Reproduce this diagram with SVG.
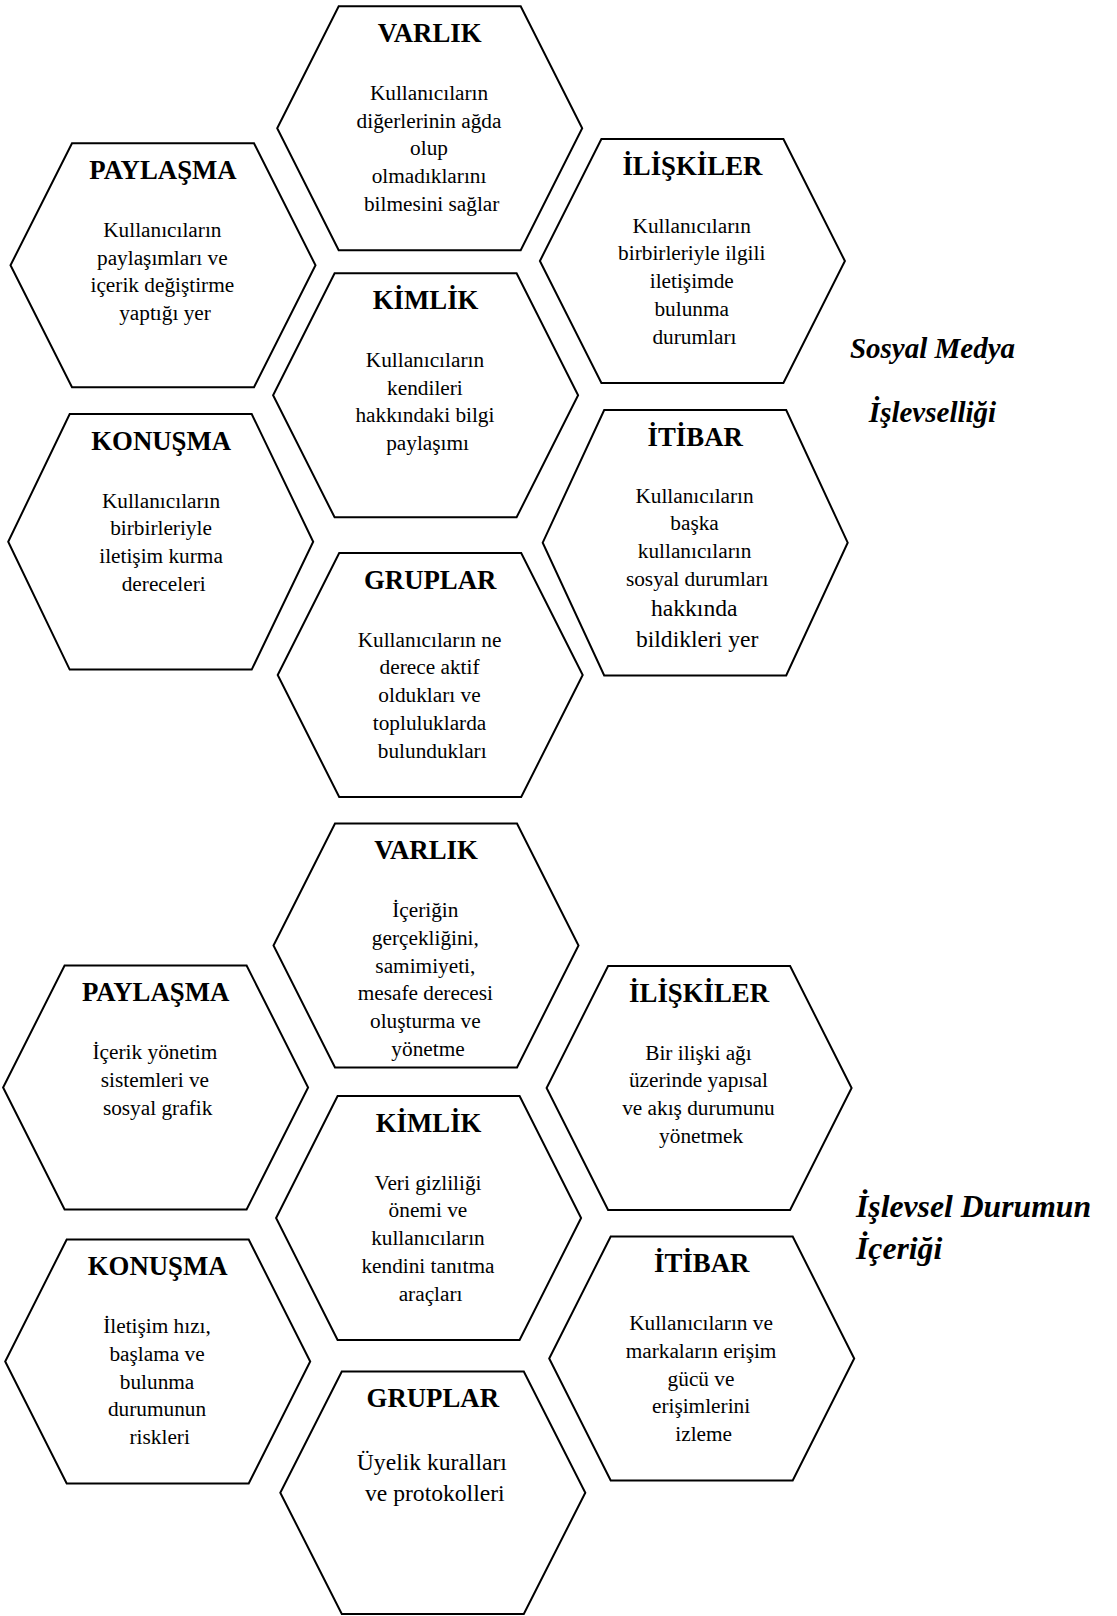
<svg xmlns="http://www.w3.org/2000/svg" width="1117" height="1616" viewBox="0 0 1117 1616">
  <style>
    .hex { fill: #ffffff; stroke: #000000; stroke-width: 2; stroke-linejoin: miter; }
    text { font-family: "Liberation Serif", "Times New Roman", serif; fill: #000000; text-anchor: middle; }
    .t { font-weight: bold; font-size: 26.8px; }
    .b { font-size: 21.3px; transform: translateX(2px); }
    .bl { font-size: 23.6px; transform: translateX(2px); }
    .side { font-weight: bold; font-style: italic; font-size: 29px; }
    .side2 { font-weight: bold; font-style: italic; font-size: 31.7px; text-anchor: start; }
  </style>
  <rect width="1117" height="1616" fill="#ffffff"/>

  <!-- Upper honeycomb: social media functionality -->
  <g id="varlik-1">
    <polygon class="hex" points="338.7,6.3 520.7,6.3 582.2,128.3 520.7,250.3 338.7,250.3 277.2,128.3"/>
    <text class="t" x="429.7" y="41.8">VARLIK</text>
    <text class="b">
      <tspan x="429.7" y="99.8">Kullanıcıların</tspan>
      <tspan x="429.7" y="127.6">diğerlerinin ağda</tspan>
      <tspan x="429.7" y="155.4">olup</tspan>
      <tspan x="429.7" y="183.2">olmadıklarını</tspan>
      <tspan x="429.7" y="211">bilmesini sağlar</tspan>
    </text>
  </g>

  <g id="paylasma-1">
    <polygon class="hex" points="72,143.3 254,143.3 315.5,265.3 254,387.3 72,387.3 10.5,265.3"/>
    <text class="t" x="163" y="178.8">PAYLAŞMA</text>
    <text class="b">
      <tspan x="163" y="236.8">Kullanıcıların</tspan>
      <tspan x="163" y="264.6">paylaşımları ve</tspan>
      <tspan x="163" y="292.4">içerik değiştirme</tspan>
      <tspan x="163" y="320.2">yaptığı yer</tspan>
    </text>
  </g>

  <g id="iliskiler-1">
    <polygon class="hex" points="601.4,139 783.4,139 844.9,261 783.4,383 601.4,383 539.9,261"/>
    <text class="t" x="692.4" y="174.5">İLİŞKİLER</text>
    <text class="b">
      <tspan x="692.4" y="232.5">Kullanıcıların</tspan>
      <tspan x="692.4" y="260.3">birbirleriyle ilgili</tspan>
      <tspan x="692.4" y="288.1">iletişimde</tspan>
      <tspan x="692.4" y="315.9">bulunma</tspan>
      <tspan x="692.4" y="343.7">durumları</tspan>
    </text>
  </g>

  <g id="kimlik-1">
    <polygon class="hex" points="334.6,273.3 516.6,273.3 578.1,395.3 516.6,517.3 334.6,517.3 273.1,395.3"/>
    <text class="t" x="425.6" y="308.8">KİMLİK</text>
    <text class="b">
      <tspan x="425.6" y="366.8">Kullanıcıların</tspan>
      <tspan x="425.6" y="394.6">kendileri</tspan>
      <tspan x="425.6" y="422.4">hakkındaki bilgi</tspan>
      <tspan x="425.6" y="450.2">paylaşımı</tspan>
    </text>
  </g>

  <g id="konusma-1">
    <polygon class="hex" points="69.7,414 251.7,414 313.2,541.8 251.7,669.6 69.7,669.6 8.2,541.8"/>
    <text class="t" x="161.2" y="449.5">KONUŞMA</text>
    <text class="b">
      <tspan x="161.7" y="507.5">Kullanıcıların</tspan>
      <tspan x="161.7" y="535.3">birbirleriyle</tspan>
      <tspan x="161.7" y="563.1">iletişim kurma</tspan>
      <tspan x="161.7" y="590.9">dereceleri</tspan>
    </text>
  </g>

  <g id="itibar-1">
    <polygon class="hex" points="604.2,410 786.2,410 847.7,542.7 786.2,675.4 604.2,675.4 542.7,542.7"/>
    <text class="t" x="695.2" y="445.5">İTİBAR</text>
    <text class="b">
      <tspan x="695.2" y="502.5">Kullanıcıların</tspan>
      <tspan x="695.2" y="530.3">başka</tspan>
      <tspan x="695.2" y="558.1">kullanıcıların</tspan>
      <tspan x="695.2" y="585.9">sosyal durumları</tspan>
    </text>
    <text class="bl">
      <tspan x="695.2" y="615.5">hakkında</tspan>
      <tspan x="695.2" y="647">bildikleri yer</tspan>
    </text>
  </g>

  <g id="gruplar-1">
    <polygon class="hex" points="339.2,553 521.2,553 582.7,675 521.2,797 339.2,797 277.7,675"/>
    <text class="t" x="430.2" y="588.5">GRUPLAR</text>
    <text class="b">
      <tspan x="430.2" y="646.5">Kullanıcıların ne</tspan>
      <tspan x="430.2" y="674.3">derece aktif</tspan>
      <tspan x="430.2" y="702.1">oldukları ve</tspan>
      <tspan x="430.2" y="729.9">topluluklarda</tspan>
      <tspan x="430.2" y="757.7">bulundukları</tspan>
    </text>
  </g>

  <g id="label-1">
    <text class="side" x="932.5" y="358">Sosyal Medya</text>
    <text class="side" x="932.5" y="422">İşlevselliği</text>
  </g>

  <!-- Lower honeycomb: content of the functional state -->
  <g id="varlik-2">
    <polygon class="hex" points="335,823.5 517,823.5 578.5,945.5 517,1067.5 335,1067.5 273.5,945.5"/>
    <text class="t" x="426" y="859">VARLIK</text>
    <text class="b">
      <tspan x="426" y="917">İçeriğin</tspan>
      <tspan x="426" y="944.8">gerçekliğini,</tspan>
      <tspan x="426" y="972.6">samimiyeti,</tspan>
      <tspan x="426" y="1000.4">mesafe derecesi</tspan>
      <tspan x="426" y="1028.2">oluşturma ve</tspan>
      <tspan x="426" y="1056">yönetme</tspan>
    </text>
  </g>

  <g id="paylasma-2">
    <polygon class="hex" points="64.6,965.5 246.6,965.5 308.1,1087.5 246.6,1209.5 64.6,1209.5 3.1,1087.5"/>
    <text class="t" x="155.6" y="1001">PAYLAŞMA</text>
    <text class="b">
      <tspan x="155.6" y="1059">İçerik yönetim</tspan>
      <tspan x="155.6" y="1086.8">sistemleri ve</tspan>
      <tspan x="155.6" y="1114.6">sosyal grafik</tspan>
    </text>
  </g>

  <g id="iliskiler-2">
    <polygon class="hex" points="608.1,966 790.1,966 851.6,1088 790.1,1210 608.1,1210 546.6,1088"/>
    <text class="t" x="699.1" y="1001.5">İLİŞKİLER</text>
    <text class="b">
      <tspan x="699.1" y="1059.5">Bir ilişki ağı</tspan>
      <tspan x="699.1" y="1087.3">üzerinde yapısal</tspan>
      <tspan x="699.1" y="1115.1">ve akış durumunu</tspan>
      <tspan x="699.1" y="1142.9">yönetmek</tspan>
    </text>
  </g>

  <g id="kimlik-2">
    <polygon class="hex" points="337.6,1096 519.6,1096 581.1,1218 519.6,1340 337.6,1340 276.1,1218"/>
    <text class="t" x="428.6" y="1131.5">KİMLİK</text>
    <text class="b">
      <tspan x="428.6" y="1189.5">Veri gizliliği</tspan>
      <tspan x="428.6" y="1217.3">önemi ve</tspan>
      <tspan x="428.6" y="1245.1">kullanıcıların</tspan>
      <tspan x="428.6" y="1272.9">kendini tanıtma</tspan>
      <tspan x="428.6" y="1300.7">araçları</tspan>
    </text>
  </g>

  <g id="konusma-2">
    <polygon class="hex" points="66.7,1239.5 248.7,1239.5 310.2,1361.5 248.7,1483.5 66.7,1483.5 5.2,1361.5"/>
    <text class="t" x="157.7" y="1275">KONUŞMA</text>
    <text class="b">
      <tspan x="157.7" y="1333">İletişim hızı,</tspan>
      <tspan x="157.7" y="1360.8">başlama ve</tspan>
      <tspan x="157.7" y="1388.6">bulunma</tspan>
      <tspan x="157.7" y="1416.4">durumunun</tspan>
      <tspan x="157.7" y="1444.2">riskleri</tspan>
    </text>
  </g>

  <g id="itibar-2">
    <polygon class="hex" points="610.7,1236.5 792.7,1236.5 854.2,1358.5 792.7,1480.5 610.7,1480.5 549.2,1358.5"/>
    <text class="t" x="701.7" y="1272">İTİBAR</text>
    <text class="b">
      <tspan x="701.7" y="1330">Kullanıcıların ve</tspan>
      <tspan x="701.7" y="1357.8">markaların erişim</tspan>
      <tspan x="701.7" y="1385.6">gücü ve</tspan>
      <tspan x="701.7" y="1413.4">erişimlerini</tspan>
      <tspan x="701.7" y="1441.2">izleme</tspan>
    </text>
  </g>

  <g id="gruplar-2">
    <polygon class="hex" points="341.8,1371.5 523.8,1371.5 585.3,1492.7 523.8,1614 341.8,1614 280.3,1492.7"/>
    <text class="t" x="432.8" y="1407">GRUPLAR</text>
    <text class="bl">
      <tspan x="432.8" y="1470">Üyelik kuralları</tspan>
      <tspan x="432.8" y="1500.5">ve protokolleri</tspan>
    </text>
  </g>

  <g id="label-2">
    <text class="side2" x="856" y="1216.5">İşlevsel Durumun</text>
    <text class="side2" x="856" y="1259">İçeriği</text>
  </g>
</svg>
